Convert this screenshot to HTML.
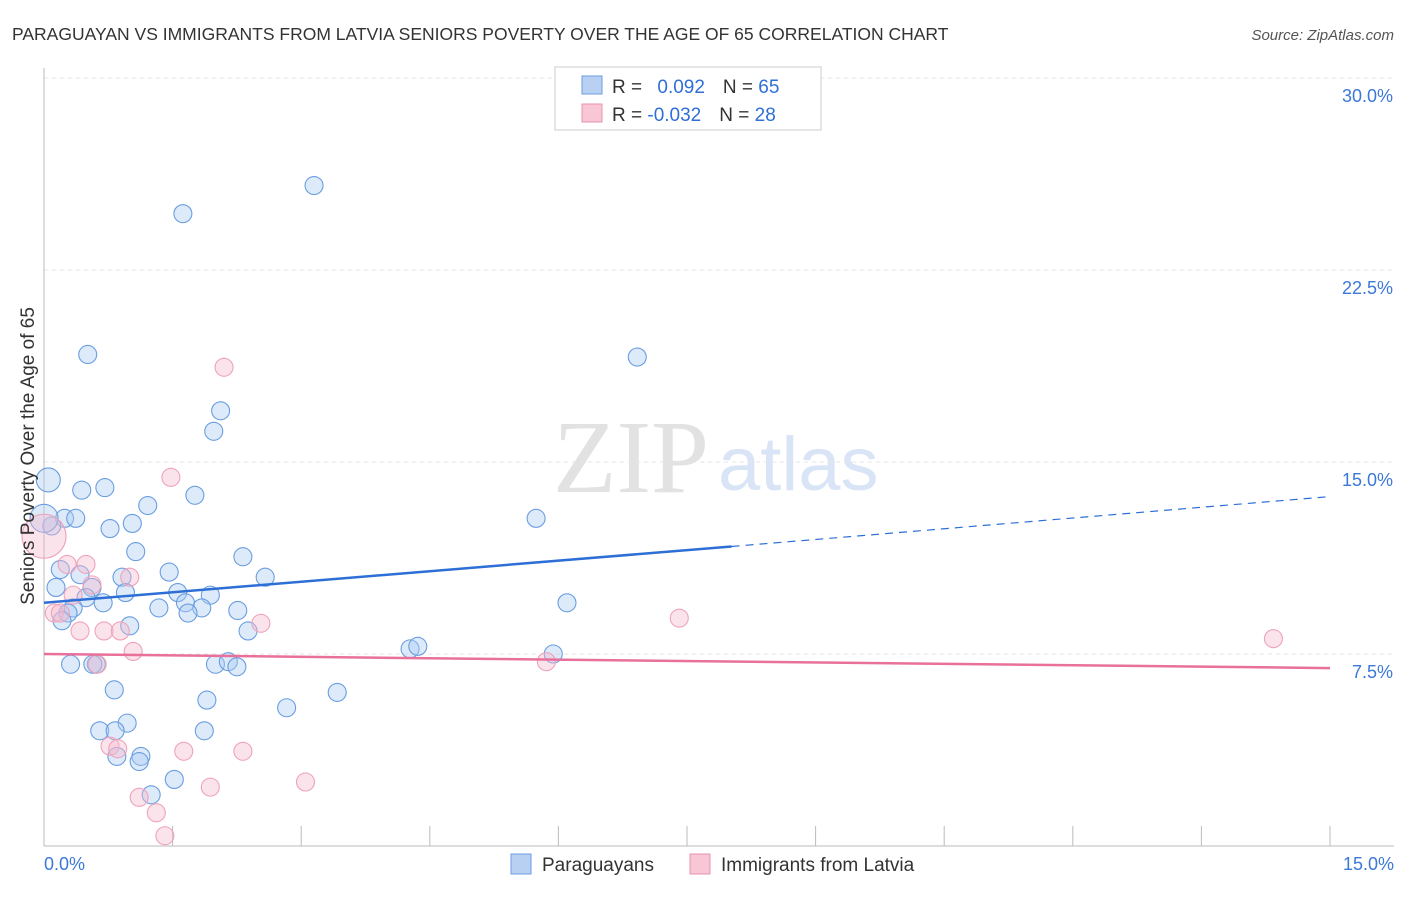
<!DOCTYPE html>
<html><head><meta charset="utf-8"><style>
body{margin:0;background:#fff;font-family:"Liberation Sans",sans-serif}
</style></head><body>
<svg width="1406" height="892" xmlns="http://www.w3.org/2000/svg" style="font-family:'Liberation Sans',sans-serif">
<text x="12" y="40" font-size="17.5" fill="#333">PARAGUAYAN VS IMMIGRANTS FROM LATVIA SENIORS POVERTY OVER THE AGE OF 65 CORRELATION CHART</text>
<text x="1394" y="40" font-size="15" fill="#555" font-style="italic" text-anchor="end">Source: ZipAtlas.com</text>
<text x="553" y="492" font-size="104" fill="#e2e2e2" font-family="Liberation Serif">ZIP</text>
<text x="718" y="490" font-size="76" fill="#d9e5f6">atlas</text>
<g id="grid"></g><g id="axes"></g><g id="marks"></g>
<text transform="translate(34,456) rotate(-90)" font-size="19" fill="#333" text-anchor="middle">Seniors Poverty Over the Age of 65</text>
<g>
<rect x="555" y="67" width="266" height="63" fill="#fff" stroke="#ccc"/>
<rect x="582" y="76" width="20" height="18" fill="#b8d1f3" stroke="#6b9de0"/>
<rect x="582" y="104" width="20" height="18" fill="#f8c6d4" stroke="#e892ab"/>
<text x="612" y="93" font-size="19" fill="#333">R = <tspan fill="#2f6fd6" dx="10">0.092</tspan><tspan dx="18" fill="#333">N = </tspan><tspan fill="#2f6fd6">65</tspan></text>
<text x="612" y="121" font-size="19" fill="#333">R = <tspan fill="#2f6fd6">-0.032</tspan><tspan dx="18" fill="#333">N = </tspan><tspan fill="#2f6fd6">28</tspan></text>
</g>
<g>
<rect x="511" y="854" width="20" height="20" fill="#b8d1f3" stroke="#6b9de0"/>
<text x="542" y="871" font-size="19" fill="#333">Paraguayans</text>
<rect x="690" y="854" width="20" height="20" fill="#f8c6d4" stroke="#e892ab"/>
<text x="721" y="871" font-size="19" fill="#333">Immigrants from Latvia</text>
</g>
</svg>
<script>
const yTicks=[7.5,15,22.5,30];
const yTickLabels=["7.5%","15.0%","22.5%","30.0%"];
const xTickLabels=["0.0%","15.0%"];
const blueX=[3.15,1.62,0.51,6.92,2.06,1.98,0.05,0.44,0.71,1.76,1.21,0.24,0.37,0.09,1.03,0.77,5.74,0,1.07,2.32,0.19,0.42,1.46,2.58,0.91,0.56,0.14,0.95,1.56,1.94,0.49,0.69,1.65,1.34,1.84,2.26,6.1,0.34,0.28,0.21,1.68,1.0,2.38,4.27,4.36,5.94,0.31,0.61,2.0,2.15,2.25,0.82,3.42,1.9,2.83,0.97,0.65,0.83,1.87,1.13,0.85,1.11,1.52,1.25,0.57];
const blueY=[25.8,24.7,19.2,19.1,17.0,16.2,14.3,13.9,14.0,13.7,13.3,12.8,12.8,12.5,12.6,12.4,12.8,12.8,11.5,11.3,10.8,10.6,10.7,10.5,10.5,10.1,10.1,9.9,9.9,9.8,9.7,9.5,9.5,9.3,9.3,9.2,9.5,9.3,9.1,8.8,9.1,8.6,8.4,7.7,7.8,7.5,7.1,7.1,7.1,7.2,7.0,6.1,6.0,5.7,5.4,4.8,4.5,4.5,4.5,3.5,3.5,3.3,2.6,2.0,7.1];
const blueR=[9,9,9,9,9,9,12,9,9,9,9,9,9,9,9,9,9,14,9,9,9,9,9,9,9,9,9,9,9,9,9,9,9,9,9,9,9,9,9,9,9,9,9,9,9,9,9,9,9,9,9,9,9,9,9,9,9,9,9,9,9,9,9,9,9];
const pinkX=[2.1,1.48,0,0.27,0.49,0.56,1.0,0.34,0.12,0.19,2.53,7.41,0.42,0.7,0.89,1.04,0.62,5.86,14.34,0.77,0.86,1.63,2.32,3.05,1.94,1.11,1.31,1.41];
const pinkY=[18.7,14.4,12.1,11.0,11.0,10.2,10.5,9.8,9.1,9.1,8.7,8.9,8.4,8.4,8.4,7.6,7.1,7.2,8.1,3.9,3.8,3.7,3.7,2.5,2.3,1.9,1.3,0.4];
const pinkR=[9,9,22,9,9,9,9,9,9,9,9,9,9,9,9,9,9,9,9,9,9,9,9,9,9,9,9,9];
const blueTrend=[[0,9.5],[8.02,11.7],[15,13.65]];
const pinkTrend=[[0,7.5],[15,6.95]];
const X=v=>44+v/15*1286, Y=v=>846-v/7.5*192;
const NS="http://www.w3.org/2000/svg";
function mk(p,t,a){const e=document.createElementNS(NS,t);for(const k in a)e.setAttribute(k,a[k]);p.appendChild(e);return e;}
const grid=document.getElementById('grid'),axes=document.getElementById('axes'),marks=document.getElementById('marks');
yTicks.forEach((t,i)=>{
 const l=mk(grid,'line',{x1:44,x2:1394,y1:Y(t),y2:Y(t),stroke:'#e6e6e6','stroke-dasharray':'4,4'});
 
 
 const tx=mk(axes,'text',{x:1393,y:Y(t)+24,'font-size':18,fill:'#3b78d8','text-anchor':'end'});tx.textContent=yTickLabels[i];
 
 
});
mk(axes,'line',{x1:44,x2:44,y1:68,y2:846,stroke:'#bbb'});
mk(axes,'line',{x1:44,x2:1394,y1:846,y2:846,stroke:'#bbb'});
for(let i=1;i<=10;i++){const t=mk(axes,'line',{x1:X(i*1.5),x2:X(i*1.5),y1:826,y2:846,stroke:'#bbb'});
 
 }
[[0,'start',44],[15,'end',1394]].forEach((d,i)=>{const t=mk(axes,'text',{x:d[2],y:870,'font-size':18,fill:'#3b78d8','text-anchor':d[1]});t.textContent=xTickLabels[i];
 
 });
blueX.forEach((x,i)=>{const c=mk(marks,'circle',{cx:X(x),cy:Y(blueY[i]),r:blueR[i],fill:'rgba(170,202,242,0.4)',stroke:'#6a9ee0','stroke-width':1.1});
 
 });
pinkX.forEach((x,i)=>{const c=mk(marks,'circle',{cx:X(x),cy:Y(pinkY[i]),r:pinkR[i],fill:'rgba(246,185,204,0.4)',stroke:'#eea3ba','stroke-width':1.1});
 
 });
const b1=mk(marks,'line',{x1:X(blueTrend[0][0]),y1:Y(blueTrend[0][1]),x2:X(blueTrend[1][0]),y2:Y(blueTrend[1][1]),stroke:'#2d6fd6','stroke-width':2.5});


const b2=mk(marks,'line',{x1:X(blueTrend[1][0]),y1:Y(blueTrend[1][1]),x2:X(blueTrend[2][0]),y2:Y(blueTrend[2][1]),stroke:'#2d6fd6','stroke-width':1.2,'stroke-dasharray':'8,6'});


const p1=mk(marks,'line',{x1:X(pinkTrend[0][0]),y1:Y(pinkTrend[0][1]),x2:X(pinkTrend[1][0]),y2:Y(pinkTrend[1][1]),stroke:'#e8709a','stroke-width':2.5});


</script>
</body></html>
